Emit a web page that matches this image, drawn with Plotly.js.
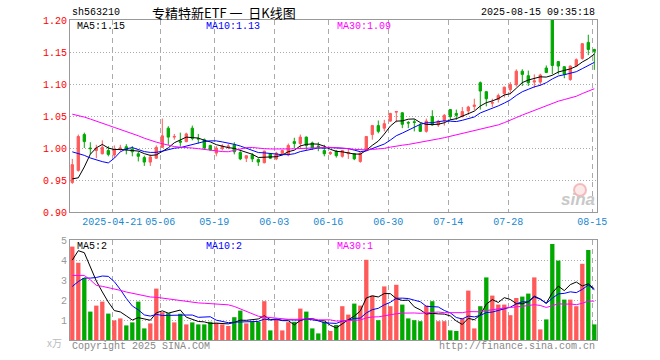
<!DOCTYPE html>
<html><head><meta charset="utf-8">
<script src="https://cdn.plot.ly/plotly-3.0.1.min.js"></script>
<style>html,body{margin:0;padding:0;background:#fff;}#chart{width:660px;height:360px;}</style>
</head><body><div id="chart"></div>
<script>
// trading dates (category labels)
const dates = [
 '2025-04-10','2025-04-11','2025-04-14','2025-04-15','2025-04-16','2025-04-17','2025-04-18','2025-04-21','2025-04-22','2025-04-23','2025-04-24','2025-04-25','2025-04-28','2025-04-29','2025-04-30',
 '2025-05-06','2025-05-07','2025-05-08','2025-05-09','2025-05-12','2025-05-13','2025-05-14','2025-05-15','2025-05-16','2025-05-19','2025-05-20','2025-05-21','2025-05-22','2025-05-23','2025-05-26','2025-05-27','2025-05-28','2025-05-29','2025-05-30',
 '2025-06-03','2025-06-04','2025-06-05','2025-06-06','2025-06-09','2025-06-10','2025-06-11','2025-06-12','2025-06-13','2025-06-16','2025-06-17','2025-06-18','2025-06-19','2025-06-20','2025-06-23','2025-06-24','2025-06-25','2025-06-26','2025-06-27','2025-06-30',
 '2025-07-01','2025-07-02','2025-07-03','2025-07-04','2025-07-07','2025-07-08','2025-07-09','2025-07-10','2025-07-11','2025-07-14','2025-07-15','2025-07-16','2025-07-17','2025-07-18','2025-07-21','2025-07-22','2025-07-23','2025-07-24','2025-07-25','2025-07-28','2025-07-29','2025-07-30','2025-07-31',
 '2025-08-01','2025-08-04','2025-08-05','2025-08-06','2025-08-07','2025-08-08','2025-08-11','2025-08-12','2025-08-13','2025-08-14','2025-08-15'];

const opens = [0.946,0.965,1.021,1.000,0.996,0.991,0.996,0.989,0.999,1.002,0.998,0.991,0.985,0.978,0.984,
 1.001,1.031,1.017,1.011,1.010,1.031,1.015,1.013,1.004,0.992,0.999,1.002,1.005,0.993,0.984,0.989,0.982,0.977,0.991,
 0.983,0.991,0.989,1.010,1.007,1.017,1.008,1.003,0.996,0.991,0.995,0.987,0.991,0.991,0.979,0.996,1.021,1.035,1.031,1.042,
 1.056,1.055,1.040,1.041,1.036,1.026,1.049,1.036,1.043,1.060,1.054,1.049,1.058,1.065,1.102,1.088,1.070,1.076,1.085,1.091,1.099,1.120,1.113,
 1.103,1.103,1.125,1.205,1.135,1.127,1.107,1.128,1.140,1.165,1.154];
const highs = [0.983,1.021,1.024,1.009,1.005,1.012,1.003,1.004,1.005,1.006,1.003,0.995,0.988,0.990,1.004,
 1.046,1.034,1.022,1.024,1.024,1.035,1.022,1.015,1.005,1.003,1.006,1.006,1.009,0.995,0.988,0.992,0.984,0.996,0.992,
 0.994,0.997,1.007,1.016,1.021,1.018,1.010,1.009,1.005,0.995,0.997,0.997,1.000,0.992,0.993,1.018,1.036,1.043,1.044,1.055,
 1.058,1.056,1.042,1.045,1.039,1.046,1.059,1.044,1.053,1.061,1.060,1.064,1.066,1.077,1.104,1.089,1.077,1.085,1.096,1.103,1.123,1.123,1.121,
 1.115,1.116,1.129,1.210,1.136,1.128,1.129,1.140,1.164,1.177,1.155];
const lows = [0.944,0.963,1.000,0.990,0.984,0.990,0.987,0.984,0.995,0.990,0.987,0.979,0.972,0.972,0.983,
 1.000,1.005,1.013,1.002,1.009,1.012,1.007,0.997,0.996,0.987,0.996,0.998,0.990,0.981,0.978,0.978,0.972,0.976,0.983,
 0.981,0.989,0.987,1.000,0.999,0.997,0.997,0.995,0.987,0.989,0.985,0.985,0.983,0.981,0.977,0.995,1.013,1.023,1.026,1.041,
 1.040,1.031,1.031,1.026,1.025,1.024,1.035,1.033,1.035,1.044,1.044,1.048,1.052,1.059,1.060,1.065,1.064,1.071,1.079,1.084,1.096,1.097,1.097,
 1.094,1.097,1.117,1.115,1.115,1.109,1.105,1.127,1.138,1.145,1.122];
const closes = [0.974,1.018,1.010,0.999,1.000,1.001,0.990,0.998,1.000,0.997,0.994,0.987,0.978,0.986,1.001,
 1.019,1.017,1.018,1.009,1.022,1.015,1.014,1.000,0.997,1.000,1.003,1.003,0.994,0.983,0.988,0.983,0.978,0.995,0.984,
 0.992,0.996,1.004,1.007,1.017,1.004,1.000,1.002,0.991,0.993,0.988,0.996,0.993,0.983,0.992,1.018,1.035,1.026,1.038,1.054,
 1.057,1.037,1.039,1.040,1.026,1.042,1.036,1.042,1.051,1.049,1.051,1.057,1.064,1.067,1.089,1.077,1.071,1.082,1.095,1.099,1.120,1.115,1.102,
 1.105,1.114,1.118,1.129,1.128,1.115,1.128,1.138,1.163,1.154,1.151];
// volume (万)
const volumes = [4.67,3.86,3.10,1.42,1.72,1.92,1.32,0.98,1.08,0.73,0.88,1.92,0.58,0.83,2.57,1.39,1.34,0.88,1.31,0.78,0.88,0.78,0.78,0.91,0.86,
 0.78,0.70,1.14,1.47,0.83,0.91,0.91,1.94,0.48,1.03,0.48,0.89,0.91,1.57,1.42,0.58,0.33,0.91,0.45,0.75,1.69,1.27,1.82,1.72,4.01,2.22,0.99,2.68,1.69,2.76,1.77,1.08,0.99,0.94,1.72,1.94,0.94,
 0.94,0.48,0.45,1.08,2.47,0.58,1.69,3.13,2.22,1.77,1.77,1.24,2.10,2.17,2.32,3.13,0.53,1.03,4.80,3.97,2.02,2.02,1.69,3.81,4.50,0.78];
// estimated closes / volumes of the 29 sessions before the window (only used for the moving averages)
const priorCloses = [1.078,1.085,1.092,1.088,1.095,1.101,1.097,1.090,1.086,1.094,1.099,1.093,1.088,1.084,1.091,1.087,1.082,
 1.040,1.030,1.045,1.045,1.038,1.040,1.030,1.028,1.010,0.925,0.900,0.950];
const priorVolumes = [3.5,3.5,8.0,10.0,3.4,3.0,2.8,3.6,3.2,2.7,3.1,2.9,3.0,3.0,2.6,2.3,2.5,2.2,2.4,2.4,1.4,1.3,1.5,1.4,1.2,1.5,3.6,5.0,5.2];

const tickDates = ['2025-04-21','2025-05-06','2025-05-19','2025-06-03','2025-06-16','2025-06-30','2025-07-14','2025-07-28','2025-08-15'];
const tickText = ['2025-04-21','05-06','05-19','06-03','06-16','06-30','07-14','07-28','08-15'];
const priceTicks = [0.90,0.95,1.00,1.05,1.10,1.15,1.20];
const volTicks = [1,2,3,4,5];

const RED='#ff5a5a', GREEN='#00a800', MONO='Liberation Mono, DejaVu Sans Mono, monospace';

function movingAvg(prior, vals, n){
  const all = prior.concat(vals);
  return vals.map((v,i)=>{const end=prior.length+i; let s=0; for(let k=end-n+1;k<=end;k++) s+=all[k]; return s/n;});
}
const xIdx = dates.map((d,i)=>i);
const ma5 = movingAvg(priorCloses, closes, 5), ma10 = movingAvg(priorCloses, closes, 10), ma30 = movingAvg(priorCloses, closes, 30);
const vma5 = movingAvg(priorVolumes, volumes, 5), vma10 = movingAvg(priorVolumes, volumes, 10), vma30 = movingAvg(priorVolumes, volumes, 30);
const volColors = closes.map((c,i)=> c>=opens[i] ? RED : GREEN);
const tickPos = tickDates.map(d=>dates.indexOf(d)-0.33);
const last = a=>a[a.length-1];

const traces = [
 {type:'candlestick', x:xIdx, open:opens, high:highs, low:lows, close:closes, xaxis:'x', yaxis:'y',
  increasing:{line:{color:RED,width:1}, fillcolor:RED}, decreasing:{line:{color:GREEN,width:1}, fillcolor:GREEN},
  whiskerwidth:0, hoverinfo:'skip'},
 {type:'scatter', mode:'lines', x:xIdx, y:ma5, line:{color:'#000000',width:1}, xaxis:'x', yaxis:'y', hoverinfo:'skip'},
 {type:'scatter', mode:'lines', x:xIdx, y:ma10, line:{color:'#0000ff',width:1}, xaxis:'x', yaxis:'y', hoverinfo:'skip'},
 {type:'scatter', mode:'lines', x:xIdx, y:ma30, line:{color:'#ff00ff',width:1}, xaxis:'x', yaxis:'y', hoverinfo:'skip'},
 {type:'bar', x:xIdx, y:volumes, width:0.72, marker:{color:volColors, line:{width:0}}, xaxis:'x2', yaxis:'y2', hoverinfo:'skip'},
 {type:'scatter', mode:'lines', x:xIdx, y:vma5, line:{color:'#000000',width:1}, xaxis:'x2', yaxis:'y2', hoverinfo:'skip'},
 {type:'scatter', mode:'lines', x:xIdx, y:vma10, line:{color:'#0000ff',width:1}, xaxis:'x2', yaxis:'y2', hoverinfo:'skip'},
 {type:'scatter', mode:'lines', x:xIdx, y:vma30, line:{color:'#ff00ff',width:1}, xaxis:'x2', yaxis:'y2', hoverinfo:'skip'}
];

const axisBox = {showline:true, mirror:true, linecolor:'#999999', linewidth:1, zeroline:false, fixedrange:true};
const xr = [-0.383, 87.45];
function ann(text, px, py, color, xanchor, size, family, extra){
  return Object.assign({text:text, xref:'paper', yref:'paper', x:(px-70)/527, y:(340-py)/320, xanchor:xanchor||'left', yanchor:'middle',
    showarrow:false, font:{family:family||MONO, size:size||10, color:color}}, extra||{});
}
const layout = {
  width:660, height:360, margin:{l:70,r:63,t:20,b:20}, paper_bgcolor:'#ffffff', plot_bgcolor:'#ffffff',
  showlegend:false, boxgap:0.45, hovermode:false,
  xaxis:Object.assign({}, axisBox, {domain:[0,1], anchor:'y', range:xr, tickmode:'array', tickvals:tickPos, ticktext:tickText,
    showgrid:true, gridcolor:'#aaaaaa', griddash:'5px,4px', gridwidth:1, ticks:'', tickfont:{family:MONO,size:10,color:'#1a87d0'},
    rangeslider:{visible:false}}),
  yaxis:Object.assign({}, axisBox, {domain:[0.4,1], anchor:'x', range:[0.90,1.20], tickmode:'array', tickvals:priceTicks,
    tickformat:'.2f', showgrid:true, gridcolor:'#aaaaaa', griddash:'1px,2px', gridwidth:1, ticks:'', tickfont:{family:MONO,size:10,color:'#ff0000'}}),
  xaxis2:Object.assign({}, axisBox, {domain:[0,1], anchor:'y2', range:xr, tickmode:'array', tickvals:tickPos, showticklabels:false,
    showgrid:true, gridcolor:'#aaaaaa', griddash:'5px,4px', gridwidth:1, ticks:''}),
  yaxis2:Object.assign({}, axisBox, {domain:[0,0.3125], anchor:'x2', range:[0,5], tickmode:'array', tickvals:volTicks,
    showgrid:true, gridcolor:'#aaaaaa', griddash:'1px,2px', gridwidth:1, ticks:'', tickfont:{family:MONO,size:10,color:'#999999'}}),
  annotations:[
    ann('sh563210', 70, 13, '#000000'),
    ann('专精特新ETF&nbsp;一&nbsp;&nbsp;日K线图', 224, 12, '#000000', 'center', 13, 'Noto Sans CJK SC'),
    ann('2025-08-15 09:35:18', 597, 13, '#000000', 'right'),
    ann('MA5:'+last(ma5).toFixed(2), 75, 26, '#000000'),
    ann('MA10:'+last(ma10).toFixed(2), 204, 26, '#0000ff'),
    ann('MA30:'+last(ma30).toFixed(2), 335, 26, '#ff00ff'),
    ann('MA5:'+Math.floor(last(vma5)), 75, 246, '#000000'),
    ann('MA10:'+Math.floor(last(vma10)), 204, 246, '#0000ff'),
    ann('MA30:'+Math.floor(last(vma30)), 335, 246, '#ff00ff'),
    ann('x万', 64, 342, '#bbbbbb', 'right', 10, 'Noto Sans CJK SC'),
    ann('Copyright 2025 SINA.COM', 70, 346, '#888888'),
    ann('http://finance.sina.com.cn', 597, 346, '#888888', 'right'),
    ann('<b><i>sina</i></b>', 597, 199, '#c8c8c8', 'right', 17, 'Liberation Sans')
  ],
  shapes:[
    {type:'circle', xref:'paper', yref:'paper', x0:(574-70)/527, x1:(586-70)/527, y0:(340-196)/320, y1:(340-184)/320,
     line:{color:'rgba(235,150,150,0.6)',width:2}, fillcolor:'rgba(245,200,200,0.4)'}
  ]
};
Plotly.newPlot('chart', traces, layout, {staticPlot:true, displayModeBar:false});
</script></body></html>
